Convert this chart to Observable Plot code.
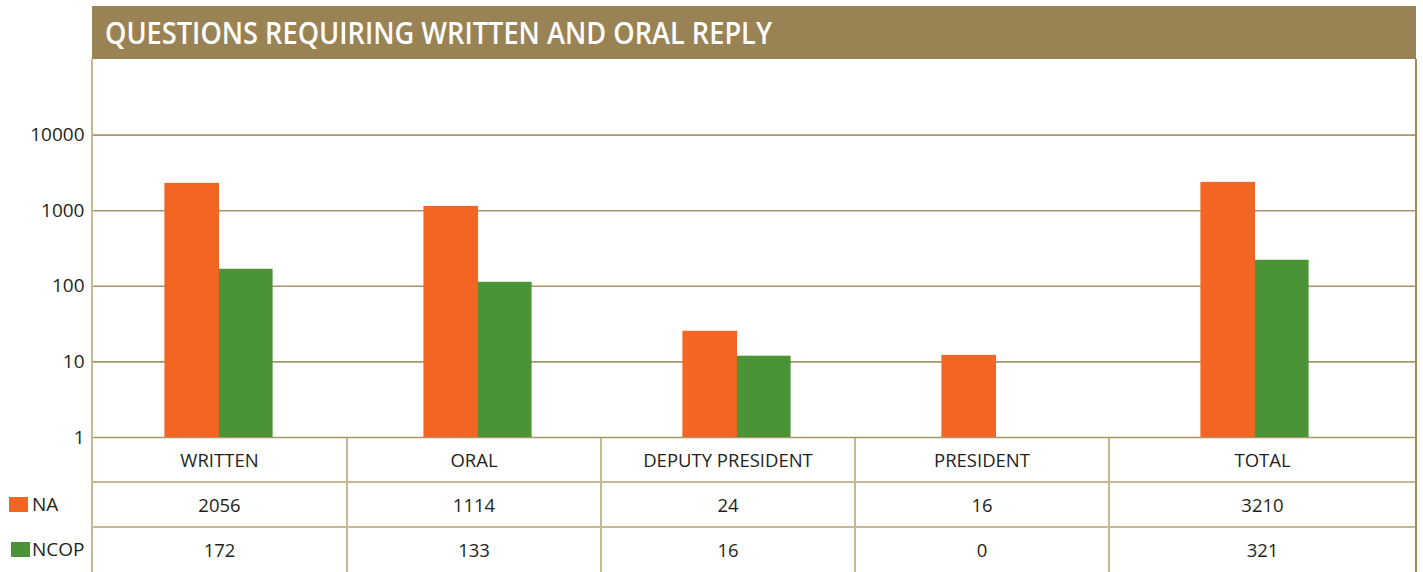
<!DOCTYPE html>
<html>
<head>
<meta charset="utf-8">
<script src="https://cdn.jsdelivr.net/npm/d3@7"></script>
<script src="https://cdn.jsdelivr.net/npm/@observablehq/plot@0.6"></script>
<style>
  html, body { margin: 0; padding: 0; background: #fff; }
  #root { position: relative; width: 1423px; height: 572px; overflow: hidden; font-family: "Open Sans", sans-serif; color: #231f20; }
  #title { position: absolute; left: 92px; top: 6px; width: 1324px; height: 53px; background: #998253; }
  #title span { position: absolute; left: 13px; top: 5px; color: #fff; font-family: "Open Sans", sans-serif; font-weight: 600; font-size: 31px; line-height: 42px; white-space: nowrap; transform-origin: 0 0; letter-spacing: 0; }
  #frame { position: absolute; left: 91px; top: 59px; width: 1326px; height: 513px; box-sizing: border-box; border-left: 2px solid #c6b996; border-right: 2px solid #a08a5a; pointer-events: none; }
  #chart { position: absolute; left: 0; top: 59px; }
  #table { position: absolute; left: 0; top: 437px; width: 1423px; height: 135px; }
  .row { position: absolute; left: 92px; width: 1324px; height: 45px; }
  .cell { position: absolute; top: 0; height: 45px; line-height: 45px; text-align: center; font-size: 18.5px; color: #231f20; }
  .hline { position: absolute; left: 92px; width: 1324px; height: 2px; background: #c6b996; }
  .vline { position: absolute; width: 2px; height: 135px; top: 0; background: #c6b996; }
  .legend { position: absolute; height: 45px; line-height: 45px; font-size: 19px; color: #231f20; }
  .sw { position: absolute; width: 19px; height: 15px; }
</style>
</head>
<body>
<div id="root">
  <div id="title"><span id="titletext">QUESTIONS REQUIRING WRITTEN AND ORAL REPLY</span></div>
  <div id="table"></div>
  <div id="chart"></div>
  <div id="frame"></div>
</div>
<script>
// ---- data ----
const categories = ["WRITTEN", "ORAL", "DEPUTY PRESIDENT", "PRESIDENT", "TOTAL"];
const series = ["NA", "NCOP"];
// bar heights as drawn in the picture (log scale)
const naBars = [2300, 1140, 25.4, 12.2, 2370];
const ncopBars = [168, 113, 11.9, 0, 221];
// values printed in the data table
const naTable = ["2056", "1114", "24", "16", "3210"];
const ncopTable = ["172", "133", "16", "0", "321"];
const yTicks = [1, 10, 100, 1000, 10000];
const colors = {NA: "#f26522", NCOP: "#4a9336"};

const bars = [];
categories.forEach((c, i) => {
  bars.push({cat: c, series: "NA", value: naBars[i]});
  bars.push({cat: c, series: "NCOP", value: ncopBars[i]});
});
const visible = bars.filter(d => d.value > 0);

// ---- chart ----
const plot = Plot.plot({
  width: 1423,
  height: 392,
  marginLeft: 92,
  marginRight: 7,
  marginTop: 0,
  marginBottom: 14,
  style: {fontFamily: "'Open Sans', sans-serif", fontSize: "19px", color: "#231f20", background: "transparent", overflow: "visible"},
  x: {domain: categories, range: [86.5, 1385.75], padding: 0, axis: null},
  y: {type: "log", domain: [1, 100000], range: [378, 0], ticks: yTicks, tickFormat: d => String(d), tickSize: 0, tickPadding: 8, label: null},
  marks: [
    Plot.ruleY(yTicks, {stroke: "#a8956a", strokeWidth: 1.6}),
    Plot.barY(visible.filter(d => d.series === "NA"), {x: "cat", y1: d => 1, y2: "value", fill: colors.NA, insetLeft: 75.4, insetRight: 129.0}),
    Plot.barY(visible.filter(d => d.series === "NCOP"), {x: "cat", y1: d => 1, y2: "value", fill: colors.NCOP, insetLeft: 129.9, insetRight: 75.4}),
    Plot.axisY({ticks: yTicks, tickFormat: d => String(d), tickSize: 0, tickPadding: 8, fontSize: 19, fill: "#231f20"})
  ]
});
document.getElementById("chart").appendChild(plot);

// ---- data table ----
const table = document.getElementById("table");
const colEdges = [0, 255, 509, 763, 1017, 1324]; // relative to left border
const rows = [
  {label: null, values: categories},
  {label: "NA", values: naTable},
  {label: "NCOP", values: ncopTable}
];
rows.forEach((r, ri) => {
  const row = document.createElement("div");
  row.className = "row";
  row.style.top = (ri * 45) + "px";
  r.values.forEach((v, ci) => {
    const cell = document.createElement("div");
    cell.className = "cell";
    cell.style.left = colEdges[ci] + "px";
    cell.style.width = (colEdges[ci + 1] - colEdges[ci]) + "px";
    cell.textContent = v;
    row.appendChild(cell);
  });
  table.appendChild(row);
  if (r.label) {
    const sw = document.createElement("div");
    sw.className = "sw";
    sw.style.background = colors[r.label];
    sw.style.left = (r.label === "NA" ? 9 : 11) + "px";
    sw.style.top = (ri * 45 + 15) + "px";
    table.appendChild(sw);
    const lg = document.createElement("div");
    lg.className = "legend";
    lg.style.left = "32px";
    lg.style.top = (ri * 45) + "px";
    lg.textContent = r.label;
    table.appendChild(lg);
  }
});
[45, 90].forEach(t => {
  const h = document.createElement("div");
  h.className = "hline";
  h.style.top = (t - 1) + "px";
  table.appendChild(h);
});
colEdges.slice(1, 5).forEach(x => {
  const v = document.createElement("div");
  v.className = "vline";
  v.style.left = (92 + x - 1) + "px";
  table.appendChild(v);
});

// ---- fit title width ----
const tt = document.getElementById("titletext");
const w = tt.getBoundingClientRect().width;
if (w > 0) tt.style.transform = `scaleX(${667 / w})`;
</script>
</body>
</html>
